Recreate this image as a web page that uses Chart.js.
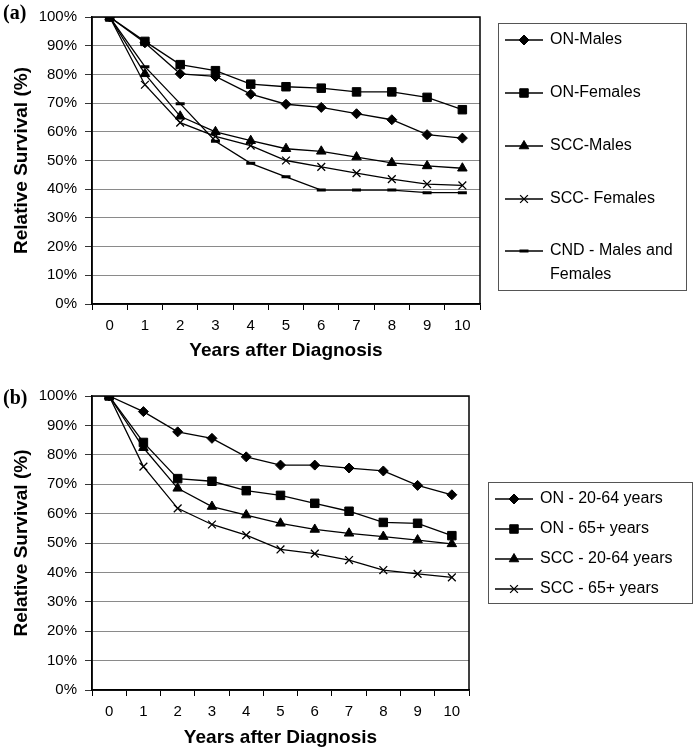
<!DOCTYPE html>
<html>
<head>
<meta charset="utf-8">
<script src="https://cdn.jsdelivr.net/npm/chart.js@4"></script>
<style>
  body { margin: 0; background: #fff; width: 700px; height: 750px; position: relative; overflow: hidden; }
  .panel { position: absolute; left: 0; width: 700px; }
  .tag { position: absolute; left: 3px; font: bold 20px "Liberation Serif", serif; color: #000; }
</style>
</head>
<body>
<div class="panel" style="top:0;height:365px"><canvas id="chartA" width="700" height="365"></canvas></div>
<div class="panel" style="top:370px;height:380px"><canvas id="chartB" width="700" height="380"></canvas></div>
<div class="tag" style="top:1px">(a)</div>
<div class="tag" style="top:386px">(b)</div>
<script>
// years after diagnosis
var years = ["0", "1", "2", "3", "4", "5", "6", "7", "8", "9", "10"];

// panel (a) - by sex
var onMales     = [100, 91, 80.2, 79.3, 73.1, 69.6, 68.5, 66.3, 64.2, 59.0, 57.8];
var onFemales   = [100, 91.5, 83.4, 81.3, 76.6, 75.7, 75.2, 73.9, 73.9, 72.0, 67.7];
var sccMales    = [100, 80.2, 65.4, 60.0, 56.9, 54.1, 53.2, 51.2, 49.2, 48.1, 47.3];
var sccFemales  = [100, 76.4, 63.2, 58.4, 55.2, 50.0, 47.8, 45.6, 43.5, 41.8, 41.3];
var cndAll      = [100, 82.7, 69.8, 56.7, 49.0, 44.3, 39.7, 39.7, 39.7, 38.8, 38.8];

// panel (b) - by age group
var on2064  = [100, 94.7, 87.8, 85.6, 79.3, 76.5, 76.5, 75.5, 74.5, 69.6, 66.4];
var on65    = [100, 84.2, 71.9, 71.0, 67.8, 66.2, 63.5, 60.8, 57.0, 56.7, 52.5];
var scc2064 = [100, 82.4, 68.6, 62.4, 59.5, 56.7, 54.6, 53.3, 52.2, 51.0, 49.7];
var scc65   = [100, 76.0, 61.8, 56.3, 52.7, 47.8, 46.4, 44.2, 40.8, 39.5, 38.3];

var yTicks = [0, 10, 20, 30, 40, 50, 60, 70, 80, 90, 100];

var FONT = "'Liberation Sans', Arial, sans-serif";

function series(label, data, style, radius, bw) {
  return {
    label: label,
    data: data,
    borderColor: "#000",
    backgroundColor: "#000",
    borderWidth: 1.3,
    pointStyle: style,
    pointRadius: radius,
    pointBorderWidth: bw || 1,
    pointBackgroundColor: "#000",
    pointBorderColor: "#000",
    tension: 0
  };
}

// box round the plot + hand drawn legend box
var frame = {
  id: "frame",
  afterDraw(chart, args, opts) {
    var ctx = chart.ctx;
    var a = chart.chartArea;
    ctx.save();
    ctx.strokeStyle = "#000";
    ctx.lineWidth = 1.5;
    ctx.strokeRect(a.left, a.top, a.right - a.left, a.bottom - a.top);

    var lg = opts.box;
    ctx.lineWidth = 1;
    ctx.strokeStyle = "#555";
    ctx.strokeRect(lg.x + 0.5, lg.y + 0.5, lg.w, lg.h);

    ctx.font = "16px " + FONT;
    ctx.fillStyle = "#000";
    ctx.textBaseline = "middle";
    chart.data.datasets.forEach(function (ds, i) {
      var y = opts.rows[i];
      ctx.strokeStyle = "#000";
      ctx.lineWidth = 1.3;
      ctx.beginPath();
      ctx.moveTo(lg.x + 7, y);
      ctx.lineTo(lg.x + 45, y);
      ctx.stroke();
      ctx.lineWidth = ds.pointBorderWidth;
      Chart.helpers.drawPoint(ctx, {
        pointStyle: ds.pointStyle,
        radius: ds.pointRadius,
        rotation: 0,
        borderWidth: ds.pointBorderWidth
      }, lg.x + 26, y);
      var lines = opts.labels[i];
      lines.forEach(function (t, k) {
        ctx.fillText(t, lg.x + 52, y + k * 24);
      });
    });
    ctx.restore();
  }
};

function makeChart(id, datasets, cfg) {
  return new Chart(document.getElementById(id), {
    type: "line",
    data: { labels: years, datasets: datasets },
    plugins: [frame],
    options: {
      responsive: false,
      animation: false,
      layout: { padding: { top: cfg.top, right: cfg.right, left: 0, bottom: 0 } },
      plugins: {
        legend: { display: false },
        tooltip: { enabled: false },
        frame: { box: cfg.box, rows: cfg.rows, labels: cfg.labels }
      },
      scales: {
        x: {
          offset: true,
          grid: { offset: true, drawOnChartArea: false, tickLength: 6, color: "#000", lineWidth: 1 },
          border: { color: "#000", width: 1.5 },
          ticks: { color: "#000", font: { family: FONT, size: 15 }, padding: 7, maxRotation: 0 },
          title: { display: true, text: "Years after Diagnosis", color: "#000",
                   font: { family: FONT, size: 19, weight: "bold" }, padding: { top: 4, bottom: cfg.titleGap } },
          afterFit(scale) { scale.height = cfg.xh; }
        },
        y: {
          min: 0,
          max: 100,
          afterBuildTicks(scale) { scale.ticks = yTicks.map(function (v) { return { value: v }; }); },
          grid: { color: "#8a8a8a", lineWidth: 1, tickLength: 7, tickColor: "#333" },
          border: { color: "#000", width: 1.5 },
          ticks: { color: "#000", font: { family: FONT, size: 15 }, padding: 8,
                   callback: function (v) { return v + "%"; } },
          title: { display: true, text: "Relative Survival (%)", color: "#000",
                   font: { family: FONT, size: 19, weight: "bold" }, padding: { top: 10, bottom: 0 } },
          afterFit(scale) { scale.width = 92; }
        }
      }
    }
  });
}

makeChart("chartA", [
  series("ON-Males", onMales, "rectRot", 5),
  series("ON-Females", onFemales, "rect", 6),
  series("SCC-Males", sccMales, "triangle", 5.5),
  series("SCC- Females", sccFemales, "crossRot", 5.5, 1.3),
  series("CND - Males and Females", cndAll, "line", 4.5, 3)
], {
  top: 10, right: 220, xh: 61, titleGap: 3,
  box: { x: 498, y: 23, w: 188, h: 267 },
  rows: [40, 93, 146, 199, 251],
  labels: [["ON-Males"], ["ON-Females"], ["SCC-Males"], ["SCC- Females"], ["CND - Males and", "Females"]]
});

makeChart("chartB", [
  series("ON - 20-64 years", on2064, "rectRot", 5),
  series("ON - 65+ years", on65, "rect", 6),
  series("SCC - 20-64 years", scc2064, "triangle", 5.5),
  series("SCC - 65+ years", scc65, "crossRot", 5.5, 1.3)
], {
  top: 26, right: 231, xh: 60, titleGap: 1,
  box: { x: 488, y: 112, w: 204, h: 121 },
  rows: [129, 159, 189, 219],
  labels: [["ON - 20-64 years"], ["ON - 65+ years"], ["SCC - 20-64 years"], ["SCC - 65+ years"]]
});
</script>
</body>
</html>
